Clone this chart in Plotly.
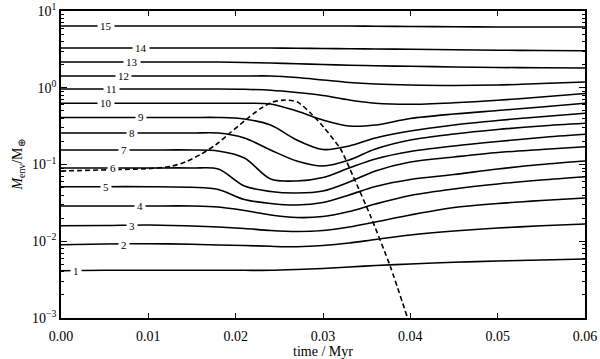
import math
import plotly.graph_objects as go

# time grid (Myr) shared by all contour lines
time = [0, 0.005, 0.01, 0.015, 0.018, 0.021, 0.024, 0.027, 0.03, 0.033, 0.036, 0.04, 0.045, 0.05, 0.055, 0.06]

# envelope mass (Earth masses) along each labelled contour
line1 = [0.00413, 0.00418, 0.00418, 0.00418, 0.00418, 0.00418, 0.00418, 0.00428, 0.00442, 0.00462, 0.00483, 0.00505, 0.00532, 0.00553, 0.00570, 0.00587]
line2 = [0.00902, 0.00921, 0.00929, 0.00913, 0.00894, 0.00880, 0.00859, 0.00849, 0.00880, 0.00949, 0.01054, 0.01206, 0.01360, 0.01489, 0.01589, 0.01678]
line3 = [0.01594, 0.01604, 0.01628, 0.01580, 0.01533, 0.01466, 0.01380, 0.01340, 0.01380, 0.01533, 0.01781, 0.02198, 0.02752, 0.03103, 0.03395, 0.03659]
line4 = [0.02878, 0.02878, 0.02878, 0.02878, 0.02794, 0.02516, 0.02198, 0.02039, 0.02101, 0.02441, 0.03057, 0.03945, 0.04797, 0.05569, 0.06282, 0.06935]
line5 = [0.05137, 0.05137, 0.05137, 0.05045, 0.04723, 0.03498, 0.03103, 0.02966, 0.03198, 0.04004, 0.05168, 0.06377, 0.07409, 0.08738, 0.1000, 0.1110]
line6 = [0.09001, 0.09001, 0.09001, 0.09001, 0.08738, 0.05246, 0.04448, 0.04252, 0.04515, 0.05916, 0.08231, 0.1078, 0.1252, 0.1433, 0.1568, 0.1706]
line7 = [0.1545, 0.1545, 0.1545, 0.1545, 0.1499, 0.1215, 0.06474, 0.06097, 0.06771, 0.09001, 0.1179, 0.1477, 0.1742, 0.1994, 0.2247, 0.2474]
line8 = [0.2573, 0.2573, 0.2573, 0.2573, 0.2573, 0.2214, 0.1545, 0.1110, 0.0956, 0.1145, 0.1591, 0.2086, 0.2497, 0.2858, 0.3174, 0.3440]
line9 = [0.4097, 0.4097, 0.4097, 0.4097, 0.4097, 0.3916, 0.3270, 0.2086, 0.1568, 0.1742, 0.2214, 0.2732, 0.3270, 0.3744, 0.4196, 0.4646]
line10 = [0.6271, 0.6271, 0.6271, 0.6271, 0.6271, 0.6271, 0.6141, 0.4977, 0.3801, 0.3174, 0.3270, 0.3976, 0.4548, 0.5052, 0.5613, 0.6271]
line11 = [0.9632, 0.9632, 0.9632, 0.9632, 0.9632, 0.9546, 0.9264, 0.8672, 0.7924, 0.6925, 0.6290, 0.6086, 0.6366, 0.6862, 0.7575, 0.8416]
line12 = [1.423, 1.423, 1.423, 1.423, 1.423, 1.423, 1.423, 1.360, 1.262, 1.171, 1.119, 1.086, 1.070, 1.086, 1.136, 1.188]
line13 = [2.165, 2.165, 2.165, 2.165, 2.165, 2.133, 2.101, 2.058, 2.009, 1.967, 1.932, 1.904, 1.864, 1.837, 1.819, 1.809]
line14 = [3.296, 3.296, 3.296, 3.296, 3.296, 3.296, 3.296, 3.267, 3.247, 3.218, 3.199, 3.170, 3.122, 3.085, 3.057, 3.039]
line15 = [6.377, 6.377, 6.377, 6.377, 6.377, 6.377, 6.377, 6.377, 6.377, 6.377, 6.33, 6.28, 6.24, 6.19, 6.19, 6.19]

contours = [line1, line2, line3, line4, line5, line6, line7, line8, line9, line10,
            line11, line12, line13, line14, line15]
contour_labels = ["1", "2", "3", "4", "5", "6", "7", "8", "9", "10", "11", "12", "13", "14", "15"]
label_time = [0.0017, 0.0072, 0.0081, 0.0091, 0.0051, 0.0060, 0.0072, 0.0081, 0.0092, 0.0051,
              0.0058, 0.0072, 0.0081, 0.0092, 0.0051]

# dashed curve
dash_time = [0, 0.00681, 0.01025, 0.01254, 0.01426, 0.01597, 0.01769, 0.01941, 0.02113, 0.02285,
             0.02422, 0.02571, 0.02708, 0.02857, 0.03006, 0.03201, 0.03349, 0.03544, 0.03773, 0.03968]
dash_mass = [0.0823, 0.0861, 0.0887, 0.0942, 0.1078, 0.1350, 0.1795, 0.2612, 0.3801, 0.5366,
             0.6521, 0.6925, 0.6521, 0.4688, 0.3081, 0.1592, 0.0687, 0.02133, 0.004618, 0.001]

# axis ticks
x_ticks = [0.0, 0.01, 0.02, 0.03, 0.04, 0.05, 0.06]
y_ticks = [0.001, 0.01, 0.1, 1, 10]
y_ticktext = ["10<sup>−3</sup>", "10<sup>−2</sup>", "10<sup>−1</sup>", "10<sup>0</sup>", "10<sup>1</sup>"]

FONT = "Liberation Serif"

fig = go.Figure()
for vals in contours:
    fig.add_trace(go.Scatter(x=time, y=vals, mode="lines",
                             line=dict(color="black", width=1.6, shape="spline", smoothing=0.9),
                             showlegend=False, hoverinfo="skip"))
fig.add_trace(go.Scatter(x=dash_time, y=dash_mass, mode="lines",
                         line=dict(color="black", width=1.6, dash="5px,3px", shape="spline", smoothing=0.6),
                         showlegend=False, hoverinfo="skip"))

for lab, lx, vals in zip(contour_labels, label_time, contours):
    fig.add_annotation(x=lx, y=math.log10(vals[0]), text=lab, showarrow=False,
                       font=dict(family=FONT, size=11, color="black"),
                       bgcolor="white", borderpad=2, xanchor="center", yanchor="middle")

fig.update_layout(
    width=600, height=359,
    margin=dict(l=61, r=15, t=11, b=41),
    paper_bgcolor="white", plot_bgcolor="white",
    font=dict(family=FONT, size=14, color="black"),
)
fig.update_xaxes(range=[0, 0.06], tickvals=x_ticks, tickformat=".2f", automargin=False,
                 tickfont=dict(family=FONT, size=14, color="black"), ticklabelstandoff=4,
                 showline=True, linecolor="black", linewidth=1.5, mirror="ticks",
                 ticks="inside", ticklen=5, tickwidth=1, tickcolor="black",
                 showgrid=False, zeroline=False,
                 title=dict(text="time / Myr", standoff=0, font=dict(family=FONT, size=14)))
fig.update_yaxes(type="log", range=[-3, 1], tickvals=y_ticks, ticktext=y_ticktext, automargin=False,
                 tickfont=dict(family=FONT, size=14, color="black"),
                 showline=True, linecolor="black", linewidth=1.5, mirror="ticks",
                 ticks="inside", ticklen=6, tickwidth=1, tickcolor="black",
                 minor=dict(ticks="inside", ticklen=3.5, tickcolor="black", dtick="D1", showgrid=False),
                 showgrid=False, zeroline=False,
                 title=dict(text="<i>M</i><sub>env</sub>/M<sub>⊕</sub>", standoff=6, font=dict(family=FONT, size=14)))

fig.write_html("out.html", config={"displayModeBar": False},
               post_script="document.body.style.margin='0';document.body.style.overflow='hidden';")
